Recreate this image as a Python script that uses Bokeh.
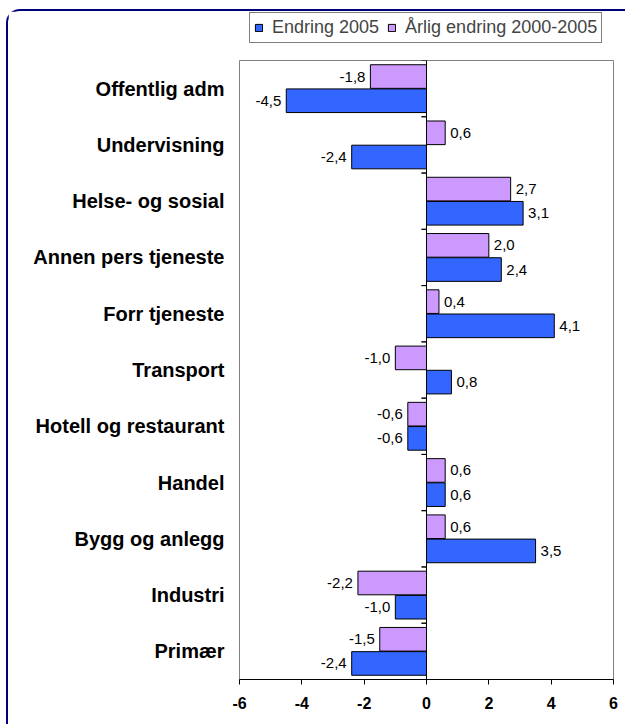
from bokeh.plotting import figure
from bokeh.models import (ColumnDataSource, Span, Legend, LegendItem, FixedTicker,
                          CustomJSTickFormatter)
from bokeh.layouts import column
from bokeh.transform import dodge
from bokeh.embed import file_html
from bokeh.resources import INLINE

categories = ["Offentlig adm", "Undervisning", "Helse- og sosial", "Annen pers tjeneste",
              "Forr tjeneste", "Transport", "Hotell og restaurant", "Handel",
              "Bygg og anlegg", "Industri", "Primær"]
endring_2005 = [-4.5, -2.4, 3.1, 2.4, 4.1, 0.8, -0.6, 0.6, 3.5, -1.0, -2.4]
arlig_endring = [-1.8, 0.6, 2.7, 2.0, 0.4, -1.0, -0.6, 0.6, 0.6, -2.2, -1.5]
series_names = ["Endring 2005", "Årlig endring 2000-2005"]
x_ticks = [-6, -4, -2, 0, 2, 4, 6]

BLUE = "#3366FF"
PURPLE = "#CC99FF"
FONT = "Liberation Sans"


def fmt(v):
    return f"{v:.1f}".replace(".", ",")


def make_source(vals):
    return ColumnDataSource(dict(
        cat=categories,
        val=vals,
        lab=[fmt(v) for v in vals],
        align=["left" if v >= 0 else "right" for v in vals],
        xoff=[5 if v >= 0 else -5 for v in vals],
    ))


src_b = make_source(endring_2005)
src_p = make_source(arlig_endring)

# ---------------- main chart ----------------
p = figure(width=617, height=665, y_range=list(reversed(categories)), x_range=(-6, 6),
           output_backend="svg", toolbar_location=None,
           min_border_left=231, min_border_top=1, min_border_right=12, min_border_bottom=45)

p.xgrid.visible = False
p.ygrid.visible = False
p.outline_line_color = "#808080"
p.outline_line_width = 1
p.background_fill_color = "white"
p.border_fill_color = "white"

BH = 0.42
DOFF = 0.215
p.hbar(y=dodge("cat", -DOFF, range=p.y_range), right="val", left=0, height=BH,
       fill_color=BLUE, line_color="black", line_width=1, source=src_b)
p.hbar(y=dodge("cat", DOFF, range=p.y_range), right="val", left=0, height=BH,
       fill_color=PURPLE, line_color="black", line_width=1, source=src_p)

for src, off in ((src_b, -DOFF), (src_p, DOFF)):
    p.text(x="val", y=dodge("cat", off, range=p.y_range), text="lab", source=src,
           text_align="align", text_baseline="middle", x_offset="xoff",
           text_font_size="15px", text_color="black", text_font={"value": FONT})

p.add_layout(Span(location=0, dimension="height", line_color="black", line_width=1))

# small tick marks on the category axis at x = 0
for off in (-0.5, 0.5):
    p.ray(x=0, y=dodge("cat", off, range=p.y_range), length=5, length_units="screen",
          angle=3.14159265, line_color="black", line_width=1, source=src_b)

p.xaxis.ticker = FixedTicker(ticks=x_ticks)
p.xaxis.formatter = CustomJSTickFormatter(code="return tick.toString();")
p.xaxis.major_label_text_font = FONT
p.xaxis.major_label_text_font_style = "bold"
p.xaxis.major_label_text_font_size = "16px"
p.xaxis.major_label_text_color = "black"
p.xaxis.axis_line_color = "black"
p.xaxis.major_tick_line_color = "black"
p.xaxis.major_tick_out = 5
p.xaxis.major_tick_in = 0
p.xaxis.minor_tick_line_color = None
p.xaxis.major_label_standoff = 12

p.yaxis.major_label_text_font = FONT
p.yaxis.major_label_text_font_style = "bold"
p.yaxis.major_label_text_font_size = "20px"
p.yaxis.major_label_text_color = "black"
p.yaxis.axis_line_color = None
p.yaxis.major_tick_line_color = None
p.yaxis.minor_tick_line_color = None
p.yaxis.major_tick_out = 0
p.yaxis.major_tick_in = 0
p.yaxis.major_label_standoff = 15

# ---------------- legend strip ----------------
lf = figure(width=617, height=48, x_range=(0, 1), y_range=(0, 1),
            output_backend="svg", toolbar_location=None,
            min_border_left=231, min_border_right=12, min_border_top=0, min_border_bottom=0)
lf.axis.visible = False
lf.grid.visible = False
lf.outline_line_color = None
lf.background_fill_color = "white"
lf.border_fill_color = "white"
lr_b = lf.hbar(y="val", right="val", left=0, height=1, fill_color=BLUE,
               line_color="black", line_width=1, source=src_b, visible=False)
lr_p = lf.hbar(y="val", right="val", left=0, height=1, fill_color=PURPLE,
               line_color="black", line_width=1, source=src_p, visible=False)
legend = Legend(items=[LegendItem(label=series_names[0], renderers=[lr_b]),
                       LegendItem(label=series_names[1], renderers=[lr_p])],
                location=(10, 16), orientation="horizontal",
                label_text_font=FONT, label_text_font_size="18px",
                glyph_width=9, glyph_height=9, label_standoff=9, spacing=8,
                padding=4, margin=0, border_line_color="black", border_line_width=1,
                label_height=19)
lf.add_layout(legend, "center")

layout = column(lf, p, spacing=0)
layout.styles = {"margin-left": "6px", "margin-top": "9px",
                 "border-top": "2px solid #00007A", "border-left": "2px solid #00007A",
                 "border-top-left-radius": "14px", "background-color": "white"}

open("out.html", "w").write(file_html(layout, INLINE))
